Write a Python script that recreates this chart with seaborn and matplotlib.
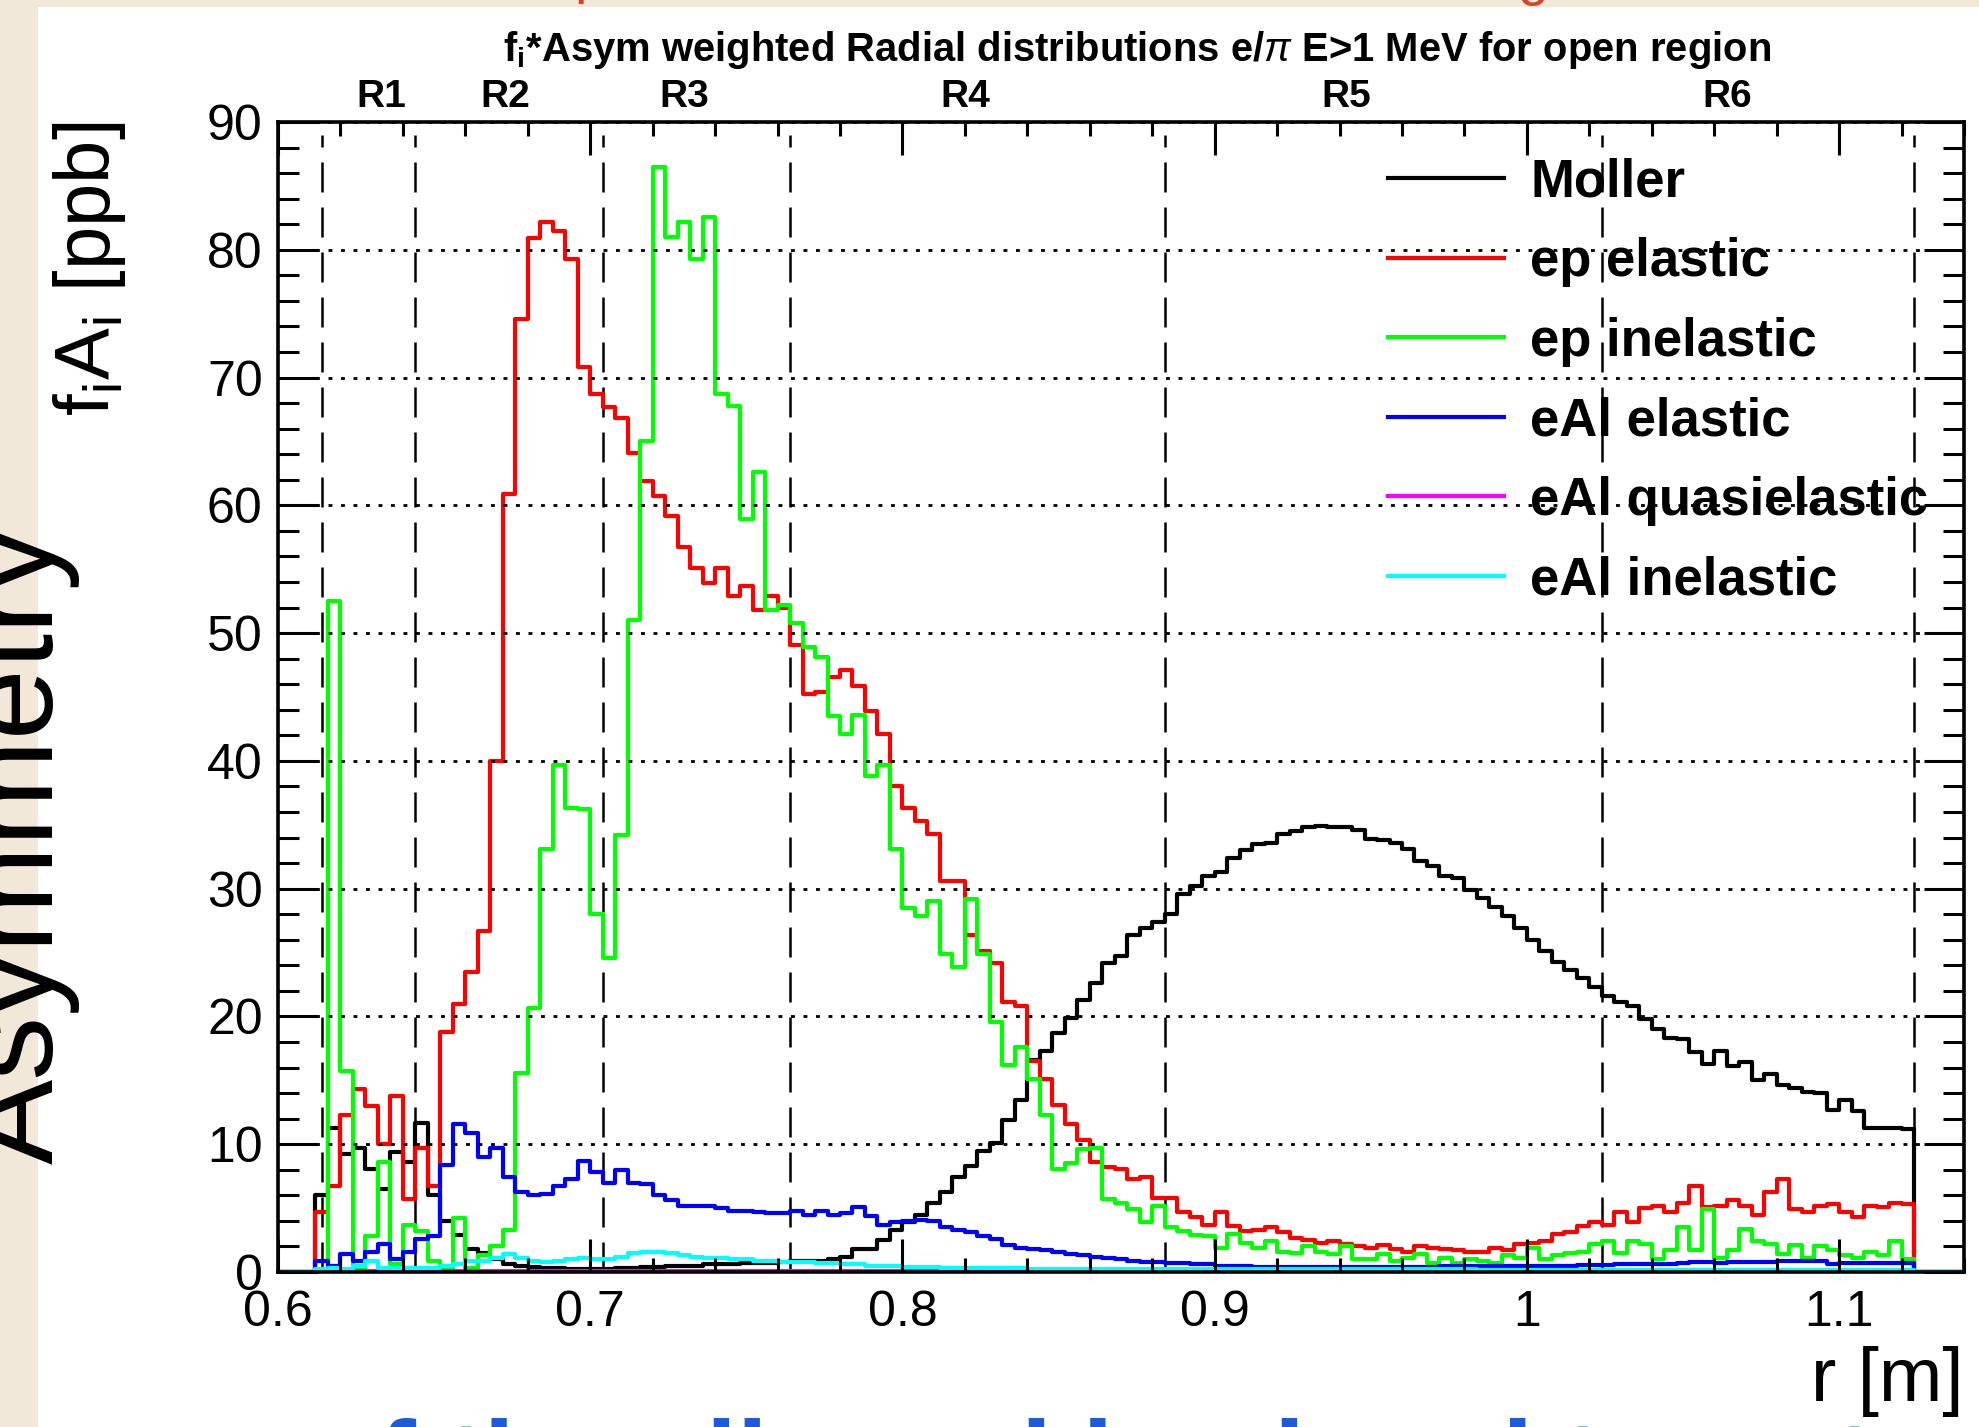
import numpy as np
import pandas as pd
import seaborn as sns
import matplotlib.pyplot as plt
from matplotlib.patches import Rectangle
from matplotlib.ticker import MultipleLocator, FuncFormatter

# ---- data: fi*Asym weighted radial distributions, bins of 4 mm from 0.600 to 1.140 m ----
r_lo, r_hi, bin_w = 0.600, 1.140, 0.004
n_bins = int(round((r_hi - r_lo) / bin_w))
r_centers = r_lo + bin_w * (np.arange(n_bins) + 0.5)

moller = [0, 0, 0, 6.0, 11.3, 9.2, 9.7, 8.1, 6.5, 9.4,
          8.6, 11.7, 6.0, 4.0, 2.9, 1.8, 1.5, 1.0, 0.6, 0.5,
          0.4, 0.3, 0.3, 0.2, 0.2, 0.2, 0.2, 0.3, 0.3, 0.4,
          0.4, 0.5, 0.5, 0.5, 0.6, 0.6, 0.6, 0.7, 0.7, 0.7,
          0.8, 0.9, 0.9, 0.9, 1.0, 1.2, 1.8, 1.8, 2.5, 3.3,
          3.9, 4.5, 5.4, 6.3, 7.4, 8.3, 9.5, 10.1, 11.9, 13.5,
          16.6, 17.3, 18.7, 19.9, 21.3, 22.6, 24.2, 24.7, 26.4, 26.9,
          27.4, 28.0, 29.6, 30.2, 31.0, 31.3, 32.4, 33.0, 33.5, 33.6,
          34.3, 34.5, 34.8, 34.9, 34.8, 34.8, 34.6, 33.9, 33.8, 33.6,
          33.1, 32.2, 31.8, 31.0, 30.8, 29.9, 29.3, 28.6, 27.9, 26.9,
          26.0, 25.1, 24.3, 23.6, 23.0, 22.3, 21.6, 21.1, 20.8, 19.8,
          19.0, 18.3, 18.2, 17.2, 16.3, 17.3, 16.1, 16.4, 15.0, 15.5,
          14.6, 14.4, 14.1, 14.0, 12.7, 13.5, 12.6, 11.3, 11.3, 11.3,
          11.2, 0, 0, 0, 0]

ep_elastic = [0, 0, 0, 4.7, 6.7, 12.3, 14.3, 13.0, 10.0, 13.8,
              5.7, 9.7, 6.7, 18.8, 21.0, 23.5, 26.7, 40.0, 60.9, 74.6,
              80.9, 82.2, 81.5, 79.3, 70.8, 68.7, 67.7, 66.8, 64.1, 61.9,
              60.7, 59.2, 56.7, 55.1, 53.9, 55.1, 52.9, 53.7, 51.8, 52.9,
              52.0, 49.1, 45.2, 45.4, 46.6, 47.1, 45.9, 43.9, 42.1, 38.0,
              36.3, 35.3, 34.3, 30.6, 30.6, 26.4, 25.1, 24.2, 21.1, 20.8,
              16.5, 15.1, 13.1, 11.6, 10.3, 8.6, 8.2, 8.1, 7.3, 7.4,
              5.8, 5.8, 4.7, 4.3, 3.7, 4.7, 3.6, 3.2, 3.3, 3.5,
              3.1, 2.7, 2.5, 2.3, 2.4, 2.2, 2.0, 1.9, 2.1, 1.8,
              1.6, 2.0, 1.9, 1.8, 1.7, 1.6, 1.6, 1.9, 1.7, 2.2,
              2.3, 2.4, 3.0, 3.1, 3.6, 3.9, 3.7, 4.7, 3.9, 5.0,
              5.2, 4.7, 5.4, 6.7, 5.1, 5.2, 5.6, 5.2, 4.5, 6.3,
              7.3, 4.9, 4.7, 5.2, 5.3, 4.7, 4.3, 5.2, 5.1, 5.4,
              5.3, 0, 0, 0, 0]

ep_inelastic = [0, 0, 0, 0, 52.5, 15.7, 0.2, 2.8, 8.6, 0.6,
                3.7, 3.2, 0.9, 0.3, 4.2, 0.3, 1.3, 2.0, 3.3, 15.6,
                20.7, 33.1, 39.7, 36.3, 36.2, 28.0, 24.6, 34.2, 51.0, 65.0,
                86.5, 81.0, 82.2, 79.3, 82.6, 68.7, 67.8, 58.9, 62.6, 51.8,
                52.2, 50.8, 48.9, 48.1, 43.5, 42.1, 43.6, 38.8, 39.7, 33.1,
                28.5, 27.9, 29.0, 24.9, 23.9, 29.2, 24.9, 19.6, 16.2, 17.6,
                15.1, 12.3, 8.1, 8.5, 9.6, 9.7, 5.7, 5.4, 4.9, 3.9,
                5.2, 3.5, 3.2, 2.9, 2.8, 1.9, 3.0, 2.3, 1.9, 2.4,
                1.6, 1.5, 2.0, 1.6, 1.4, 2.0, 1.0, 1.0, 1.4, 0.9,
                1.1, 1.4, 0.7, 1.1, 0.7, 1.0, 0.9, 0.7, 1.3, 1.1,
                1.9, 1.0, 1.3, 1.5, 1.6, 2.2, 2.4, 1.5, 2.4, 2.2,
                1.0, 1.7, 3.5, 1.7, 4.9, 1.1, 1.7, 3.4, 2.4, 2.2,
                1.4, 2.1, 1.1, 2.0, 1.7, 1.3, 1.1, 1.6, 1.3, 2.4,
                1.0, 0, 0, 0, 0]

eal_elastic = [0, 0, 0, 0.9, 0.5, 1.4, 0.9, 1.6, 2.2, 1.0,
               1.6, 2.6, 2.8, 8.4, 11.6, 10.9, 9.0, 9.7, 7.4, 6.3,
               6.0, 6.1, 6.7, 7.3, 8.7, 7.8, 7.0, 8.0, 7.0, 6.9,
               6.0, 5.6, 5.2, 5.2, 5.2, 5.0, 4.8, 4.8, 4.7, 4.6,
               4.6, 4.8, 4.5, 4.8, 4.5, 4.6, 5.1, 4.4, 3.7, 3.9,
               4.0, 4.1, 4.0, 3.5, 3.3, 3.1, 2.8, 2.6, 2.1, 1.9,
               1.8, 1.7, 1.6, 1.4, 1.3, 1.2, 1.1, 1.0, 0.9, 0.8,
               0.8, 0.7, 0.7, 0.6, 0.6, 0.5, 0.5, 0.5, 0.4, 0.4,
               0.4, 0.4, 0.4, 0.4, 0.4, 0.4, 0.4, 0.4, 0.4, 0.4,
               0.4, 0.4, 0.4, 0.45, 0.45, 0.45, 0.45, 0.45, 0.5, 0.5,
               0.5, 0.5, 0.5, 0.5, 0.55, 0.55, 0.55, 0.6, 0.6, 0.6,
               0.65, 0.65, 0.7, 0.8, 0.75, 0.7, 0.75, 0.75, 0.8, 0.8,
               0.9, 0.85, 0.85, 0.9, 0.65, 0.7, 0.7, 0.7, 0.7, 0.7,
               0.7, 0, 0, 0, 0]

eal_quasielastic = [0, 0, 0, 0] + [0.1] * 57 + [0.05] * 70 + [0, 0, 0, 0]

eal_inelastic = [0, 0, 0, 0.2, 0.3, 0.2, 0.5, 0.9, 0.3, 0.3,
                 0.3, 0.3, 0.3, 0.5, 0.6, 0.9, 0.9, 1.1, 1.4, 1.1,
                 0.9, 0.8, 0.9, 1.0, 1.1, 1.0, 1.0, 1.2, 1.5, 1.6,
                 1.6, 1.5, 1.3, 1.2, 1.1, 1.1, 1.0, 1.0, 0.9, 0.9,
                 0.8, 0.8, 0.8, 0.7, 0.7, 0.6, 0.6, 0.5, 0.5, 0.5,
                 0.4, 0.4, 0.4, 0.35, 0.35, 0.35, 0.3, 0.3, 0.3, 0.3,
                 0.25] + [0.2] * 35 + [0.15] * 35 + [0, 0, 0, 0]

series_names = ["Moller", "ep elastic", "ep inelastic",
                "eAl elastic", "eAl quasielastic", "eAl inelastic"]
series_vals = [moller, ep_elastic, ep_inelastic,
               eal_elastic, eal_quasielastic, eal_inelastic]
series_colors = ["#000000", "#ff0000", "#00ff00", "#0000ff", "#ff00ff", "#00ffff"]

# detector ring boundaries and ring labels
ring_edges = [0.614, 0.644, 0.704, 0.764, 0.884, 1.024, 1.124]
ring_names = ["R1", "R2", "R3", "R4", "R5", "R6"]
ring_label_r = [0.633, 0.6727, 0.730, 0.820, 0.942, 1.064]

y_ticks = [0, 10, 20, 30, 40, 50, 60, 70, 80, 90]
x_ticks = [0.6, 0.7, 0.8, 0.9, 1.0, 1.1]

# ---- figure ----
W, H = 1979, 1427
plt.rcParams['font.family'] = ['Liberation Sans', 'DejaVu Sans']
plt.rcParams['mathtext.fontset'] = 'custom'
plt.rcParams['mathtext.rm'] = 'Liberation Sans'
plt.rcParams['mathtext.it'] = 'Liberation Sans:italic'
plt.rcParams['mathtext.bf'] = 'Liberation Sans:bold'

fig = plt.figure(figsize=(W / 100, H / 100), dpi=100, facecolor='#f1e8da')
# white slide panel
fig.patches.append(Rectangle((38 / W, 0), 1 - 38 / W, (H - 7) / H,
                             transform=fig.transFigure, facecolor='white',
                             edgecolor='none', zorder=-5))

ax = fig.add_axes([278 / W, (H - 1272) / H, (1964 - 278) / W, (1272 - 122) / H])

for name, vals, col in zip(series_names, series_vals, series_colors):
    df = pd.DataFrame({'r': r_centers, 'w': vals})
    sns.histplot(data=df, x='r', weights='w', bins=n_bins, binrange=(r_lo, r_hi),
                 element='step', fill=False, color=col, linewidth=3.0,
                 label=name, ax=ax)

ax.vlines(ring_edges, 0, 89, colors='black', linewidth=1.8,
          linestyles=(0, (12, 6)), zorder=1)

ax.set_xlim(r_lo, r_hi)
ax.set_ylim(0, 90)
ax.set_yticks(y_ticks)
ax.set_xticks(x_ticks)
ax.xaxis.set_minor_locator(MultipleLocator(0.02))
ax.yaxis.set_minor_locator(MultipleLocator(2))
ax.xaxis.set_major_formatter(FuncFormatter(lambda v, p: '%g' % round(v, 2)))
ax.yaxis.grid(True, which='major', color='black', linewidth=2.0,
              linestyle=(0, (1.4, 3.1)))
ax.set_axisbelow(False)
for s in ax.spines.values():
    s.set_linewidth(2.6)

ax.tick_params(axis='both', which='both', direction='in', top=True, right=True,
               width=2.2, labelsize=36, colors='black')
ax.tick_params(axis='y', which='major', length=29, pad=11)
ax.tick_params(axis='y', which='minor', length=15)
ax.tick_params(axis='x', which='major', length=24, pad=13)
ax.tick_params(axis='x', which='minor', length=10)

ax.set_xlabel('r [m]', fontsize=55, loc='right')
ax.xaxis.set_label_coords(1.0, -0.064)
ax.set_ylabel(r'$\mathregular{f_{i}A_{i}}$ [ppb]', fontsize=56, loc='top')
ax.yaxis.set_label_coords(-0.089, 1.0)

leg = ax.legend(loc='upper left', bbox_to_anchor=(0.6584, 0.969), frameon=False,
                prop={'weight': 'bold', 'size': 38}, handlelength=2.2,
                handletextpad=0.49, labelspacing=0.56, borderpad=0,
                borderaxespad=0)
for h in leg.get_lines():
    h.set_linewidth(3.0)

# ring labels above the frame
for nm, rr in zip(ring_names, ring_label_r):
    ax.text(rr, (1272 - 97) / 1150, nm, transform=ax.get_xaxis_transform(),
            ha='center', va='center', fontsize=28, fontweight='bold')

fig.text(1137 / W, 1 - 50 / H,
         r'f$_{\mathbf{i}}$*Asym weighted Radial distributions e/$\pi$ E>1 MeV for open region',
         ha='center', va='center', fontsize=28.8, fontweight='bold')

# slide elements around the plot
fig.text(80 / W, (H - 1164) / H, 'Asymmetry', rotation=90, ha='right',
         va='bottom', fontsize=92, color='black')
fig.text(574 / W, 1 + 8 / H, 'p', fontsize=40, color='#d8432b', va='baseline')
fig.text(1518 / W, 1 + 6 / H, 'g', fontsize=40, color='#d8432b', va='baseline')
fig.text(311 / W, -(1499 - H) / H, 'of the allowed lead and target',
         fontsize=80, fontweight='bold', color='#1f5bd6', va='baseline')

fig.savefig('out.png', dpi=100, facecolor=fig.get_facecolor())
